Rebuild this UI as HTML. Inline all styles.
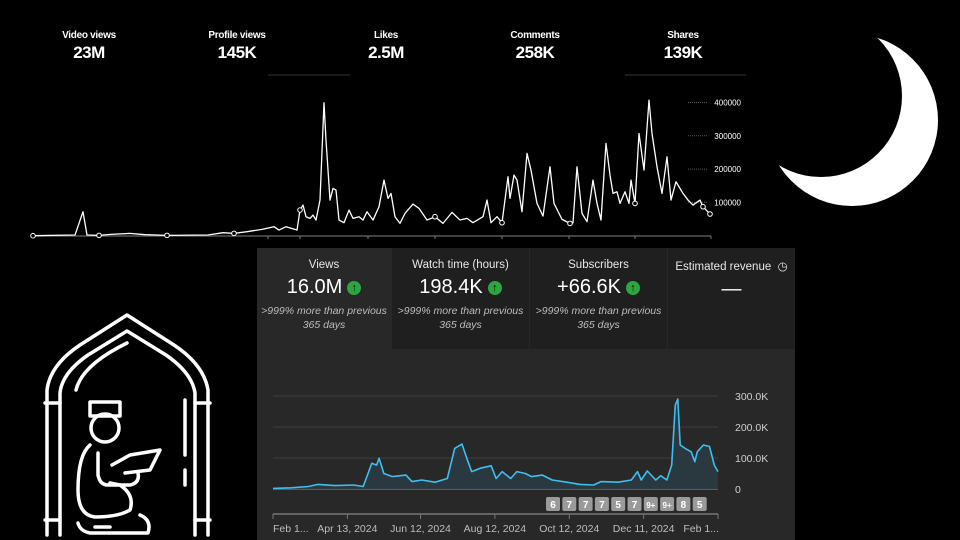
<!DOCTYPE html>
<html><head><meta charset="utf-8">
<style>
html,body{margin:0;padding:0;background:#000;}
body{width:960px;height:540px;position:relative;overflow:hidden;font-family:"Liberation Sans",sans-serif;color:#fff;}
.stat{position:absolute;top:30px;width:120px;text-align:center;}
.stat .l{font-size:10px;font-weight:bold;letter-spacing:-0.3px}
.stat .v{font-size:17px;font-weight:bold;margin-top:2px;letter-spacing:-0.5px}
#panel{position:absolute;left:257px;top:248px;width:538px;height:292px;background:#282828;}
.card{position:absolute;top:0;height:101px;background:#1f1f1f;text-align:center;}
.card .t{font-size:11.5px;color:#e8e8e8;margin-top:11px}
.card .n{font-size:20px;color:#fff;margin-top:5px;display:flex;justify-content:center;align-items:center;gap:5px}
.card .s{font-size:10.5px;font-style:italic;color:#bdbdbd;margin-top:5px;line-height:14px}
.up{display:inline-block;width:14px;height:14px;border-radius:50%;background:#2ba640;color:#111;font-size:11px;line-height:14px;font-weight:bold}
</style></head><body>
<div class="stat" style="left:29px"><div class="l">Video views</div><div class="v">23M</div></div>
<div class="stat" style="left:177px"><div class="l">Profile views</div><div class="v">145K</div></div>
<div class="stat" style="left:326px"><div class="l">Likes</div><div class="v">2.5M</div></div>
<div class="stat" style="left:475px"><div class="l">Comments</div><div class="v">258K</div></div>
<div class="stat" style="left:623px"><div class="l">Shares</div><div class="v">139K</div></div>

<svg id="top" width="960" height="245" style="position:absolute;left:0;top:0"></svg>

<svg width="960" height="540" style="position:absolute;left:0;top:0;pointer-events:none">
<defs><mask id="mm"><rect width="960" height="540" fill="#fff"/><circle cx="821" cy="96" r="81" fill="#000"/></mask></defs>
<circle cx="852" cy="120" r="86" fill="#fff" mask="url(#mm)"/>
</svg>

<svg width="200" height="235" viewBox="0 0 200 235" style="position:absolute;left:30px;top:305px" fill="none" stroke="#fff" stroke-width="3.5" stroke-linecap="round" stroke-linejoin="round">
<path d="M17 230 V85 Q20 60 50 40 L97 10 L144 40 Q174 60 178 85 V230"/>
<path d="M30 230 V88 Q32 68 58 50 L97 26 L136 50 Q162 68 165 88 V230"/>
<path d="M15 98 H30 M165 98 H180 M15 215 H30 M165 215 H180"/>
<path d="M46 85 Q52 60 97 38"/>
<path d="M155 95 V150 M155 165 V180"/>
<rect x="60" y="97" width="30" height="14"/>
<circle cx="75" cy="123" r="14"/>
<path d="M60 140 Q48 150 48 185 Q48 210 65 212 Q88 212 100 205 Q105 190 90 180 L80 178"/>
<path d="M68 148 V170 Q70 180 78 180 H100 Q110 178 108 168"/>
<path d="M82 160 L100 150 L130 145 L120 165 L95 168"/>
<path d="M48 218 Q50 226 60 228 H118 Q122 215 110 210"/>
<path d="M65 222 H80"/>
</svg>

<div id="panel">
 <div class="card" style="left:0;width:134px;background:#282828"><div class="t">Views</div><div class="n">16.0M <span class="up">↑</span></div><div class="s">&gt;999% more than previous<br>365 days</div></div>
 <div class="card" style="left:135px;width:137px"><div class="t">Watch time (hours)</div><div class="n">198.4K <span class="up">↑</span></div><div class="s">&gt;999% more than previous<br>365 days</div></div>
 <div class="card" style="left:273px;width:137px"><div class="t">Subscribers</div><div class="n">+66.6K <span class="up">↑</span></div><div class="s">&gt;999% more than previous<br>365 days</div></div>
 <div class="card" style="left:411px;width:127px"><div class="t">Estimated revenue &nbsp;◷</div><div class="n">—</div></div>
</div>
<svg id="bot" width="960" height="540" style="position:absolute;left:0;top:0"></svg>

<script>
// top chart data (day index, views)
const topDays=[0,42,50,54,66,78,97,112,134,175,190,201,214,229,241,246,253,264,267,270,273,277,280,283,287,291,293,297,300,303,306,311,316,320,326,330,334,340,346,351,355,358,362,367,372,380,386,394,402,410,419,427,434,440,450,454,458,464,469,475,477,481,484,489,494,498,504,510,517,521,529,537,540,544,549,554,560,564,568,573,577,580,584,587,592,596,598,602,606,611,616,619,624,629,634,638,643,650,655,660,667,670,677];
const topVals=[0,2,72,2,1,4,7,3,1,2,9,7,12,19,27,17,27,17,77,92,57,52,62,47,107,399,287,107,142,137,47,39,77,52,57,47,72,47,87,167,112,127,57,37,67,95,82,47,57,37,70,47,52,39,57,107,39,57,39,177,112,182,167,72,247,197,97,59,207,97,49,37,39,207,67,42,167,97,47,277,182,127,132,97,132,97,167,97,307,197,407,307,207,127,237,107,162,127,107,92,107,87,65];
const topTicks=["400000","300000","200000","100000"];
const topTickVals=[400,300,200,100];
const markerDays=[0,66,134,201,267,402,469,537,602,670,677];
const NS="http://www.w3.org/2000/svg";
function mk(svg,tag,attrs){const e=document.createElementNS(NS,tag);for(const k in attrs)e.setAttribute(k,attrs[k]);svg.appendChild(e);return e;}
const T=document.getElementById('top');
const tx=d=>33+d, ty=v=>235.7-v*0.333;
let e;
e=mk(T,'line',{x1:33,y1:236,x2:711,y2:236,stroke:'#555','stroke-width':1.5});

[268,300,368,435,502,569,635,711].forEach(x=>{const t=mk(T,'line',{x1:x,y1:236,x2:x,y2:239,stroke:'#777'});
});
e=mk(T,'line',{x1:268,y1:75,x2:350,y2:75,stroke:'#333'});
e=mk(T,'line',{x1:625,y1:75,x2:746,y2:75,stroke:'#333'});
topTickVals.forEach((v,i)=>{
 const g=mk(T,'line',{x1:688,y1:ty(v),x2:708,y2:ty(v),stroke:'#555','stroke-dasharray':'1 1'});
 
 const t=mk(T,'text',{x:741,y:ty(v)+3,'text-anchor':'end',fill:'#fff','font-size':'8','font-family':'Liberation Sans, sans-serif'});
 t.textContent=topTicks[i];
});
let p=topDays.map((d,i)=>(i?'L':'M')+tx(d)+' '+ty(topVals[i])).join(' ');
e=mk(T,'path',{d:p,fill:'none',stroke:'#fff','stroke-width':1.3,'stroke-linejoin':'round'});

function interp(d){for(let i=1;i<topDays.length;i++){if(topDays[i]>=d){const a=topDays[i-1],b=topDays[i];const f=b===a?0:(d-a)/(b-a);return topVals[i-1]+f*(topVals[i]-topVals[i-1]);}}return topVals[topVals.length-1];}
markerDays.forEach(d=>{const c=mk(T,'circle',{cx:tx(d),cy:ty(interp(d)),r:2.3,fill:'#000',stroke:'#fff','stroke-width':1});
});

// bottom chart data (day, views in K)
const botDays=[0,15,29,37,51,66,74,81,85,87,91,98,109,114,122,133,143,149,155,159,163,170,179,183,188,195,200,207,212,221,229,241,252,263,269,283,294,299,302,307,314,318,323,327,330,332,334,338,343,346,348,353,358,362,365];
const botVals=[2,4,8,15,11,13,8,83,77,99,50,40,45,24,29,22,34,131,145,99,56,67,75,34,56,34,56,50,40,45,29,22,15,13,24,22,29,56,29,58,29,43,29,77,271,290,142,131,120,88,120,142,137,77,56];
const botTickLabels=["0","100.0K","200.0K","300.0K"];
const botTickVals=[0,100,200,300];
const dateLabels=["Feb 1...","Apr 13, 2024","Jun 12, 2024","Aug 12, 2024","Oct 12, 2024","Dec 11, 2024","Feb 1..."];
const dateDays=[0,61,121,182,243,304,365];
const badges=["6","7","7","7","5","7","9+","9+","8","5"];
const B=document.getElementById('bot');
const bx=d=>273+d*445/365, by=v=>489-v*0.31;
botTickVals.forEach((v,i)=>{
 const g=mk(B,'line',{x1:273,y1:by(v),x2:718,y2:by(v),stroke:v===0?'#6a6a6a':'#3e3e3e','stroke-width':v===0?1.5:1});
 
 const t=mk(B,'text',{x:735,y:by(v)+4,fill:'#cfcfcf','font-size':'10.5','font-family':'Liberation Sans, sans-serif'});
 t.textContent=botTickLabels[i];
});
let bp=botDays.map((d,i)=>(i?'L':'M')+bx(d).toFixed(1)+' '+by(botVals[i]).toFixed(1)).join(' ');
e=mk(B,'path',{d:bp+' L'+bx(365)+' 489 L273 489 Z',fill:'#2a3a42',opacity:0.9});

e=mk(B,'path',{d:bp,fill:'none',stroke:'#3ebfef','stroke-width':1.6,'stroke-linejoin':'round'});

badges.forEach((b,i)=>{const cx=553+i*16.3;
 const r=mk(B,'rect',{x:cx-7,y:497,width:14,height:14,rx:2,fill:'#9a9a9a'});
 
 const t=mk(B,'text',{x:cx,y:508,'text-anchor':'middle',fill:'#fff','font-size':b.length>1?'8':'10','font-weight':'bold','font-family':'Liberation Sans, sans-serif'});
 t.textContent=b;
});
e=mk(B,'line',{x1:273,y1:514,x2:718,y2:514,stroke:'#777','stroke-width':1.5});

dateDays.forEach((d,i)=>{const x=bx(d);
 const k=mk(B,'line',{x1:x,y1:514,x2:x,y2:519,stroke:'#777'});
 
 const anchor=i===0?'start':(i===dateDays.length-1?'end':'middle');
 const t=mk(B,'text',{x:i===dateDays.length-1?x+1:x,y:532,'text-anchor':anchor,fill:'#bdbdbd','font-size':'10.5','font-family':'Liberation Sans, sans-serif'});
 t.textContent=dateLabels[i];
});
</script>
</body></html>
